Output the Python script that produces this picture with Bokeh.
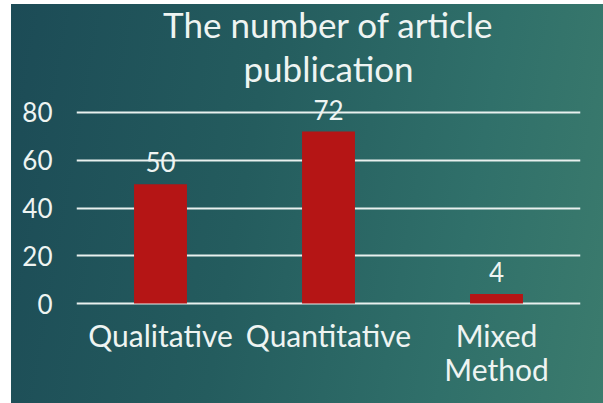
from bokeh.plotting import figure
from bokeh.models import ColumnDataSource, FixedTicker, Range1d, Title
from bokeh.core.properties import value
from bokeh.embed import file_html
from bokeh.resources import INLINE

# Article counts by research method
methods = ["Qualitative", "Quantitative", "Mixed Method"]
method_labels = ["Qualitative", "Quantitative", "Mixed\nMethod"]
counts = [50, 72, 4]
y_ticks = [0, 20, 40, 60, 80]

FONT = "Lato"
TEXT = "#eef4f2"
BAR = "#b51515"

source = ColumnDataSource(data=dict(method=methods, count=counts,
                                    label=[str(c) for c in counts],
                                    name=method_labels,
                                    base=[0] * len(methods)))

# the frame runs below zero so the category names can sit inside it,
# and a little above 80 to leave air under the title
p = figure(x_range=methods, y_range=Range1d(-40.2, 90.05), width=592, height=403,
           output_backend="svg", toolbar_location=None,
           min_border_left=65, min_border_right=23, min_border_bottom=4,
           min_border_top=88)

# transparent canvas so the teal gradient behind it shows through;
# a thin white band runs along the top edge
p.background_fill_color = None
p.border_fill_color = None
p.outline_line_color = None
p.styles = {
    "margin-left": "11px",
    "background": ("linear-gradient(to bottom, #ffffff 0px, #ffffff 4px, transparent 4px), "
                   "linear-gradient(100deg, #1c4b56 0%, #245c5e 40%, #30706a 75%, #3b7b6d 100%)"),
}

# two-line title, each line centred; the last added panel sits nearest the frame
title_style = dict(align="center", text_font=FONT, text_font_style="normal",
                   text_font_size="35px", text_color=TEXT)
p.title.text = "The number of article"
for k, v in title_style.items():
    setattr(p.title, k, v)
p.title.standoff = 0
p.add_layout(Title(text="publication", standoff=0, **title_style), "above")

p.xgrid.grid_line_color = None
p.ygrid.grid_line_color = "#e8f0ee"
p.ygrid.grid_line_width = 2
p.ygrid.ticker = FixedTicker(ticks=y_ticks)

p.vbar(x="method", top="count", width=0.315, source=source,
       fill_color=BAR, line_color=None)

# value labels above the bars
p.text(x="method", y="count", text="label", source=source,
       text_align="center", text_baseline="alphabetic", y_offset=-22,
       text_font=value(FONT), text_font_size="26px", text_color=TEXT)

# category names under the baseline
p.text(x="method", y="base", text="name", source=source,
       text_align="center", text_baseline="top", y_offset=13,
       text_line_height=0.95,
       text_font=value(FONT), text_font_size="30px", text_color=TEXT)

p.xaxis.visible = False
p.yaxis.ticker = FixedTicker(ticks=y_ticks)
ax = p.yaxis[0]
ax.axis_line_color = None
ax.major_tick_line_color = None
ax.minor_tick_line_color = None
ax.major_label_text_font = FONT
ax.major_label_text_color = TEXT
ax.major_label_text_font_size = "26px"
ax.major_label_standoff = 18

open("out.html", "w").write(file_html(p, INLINE))
